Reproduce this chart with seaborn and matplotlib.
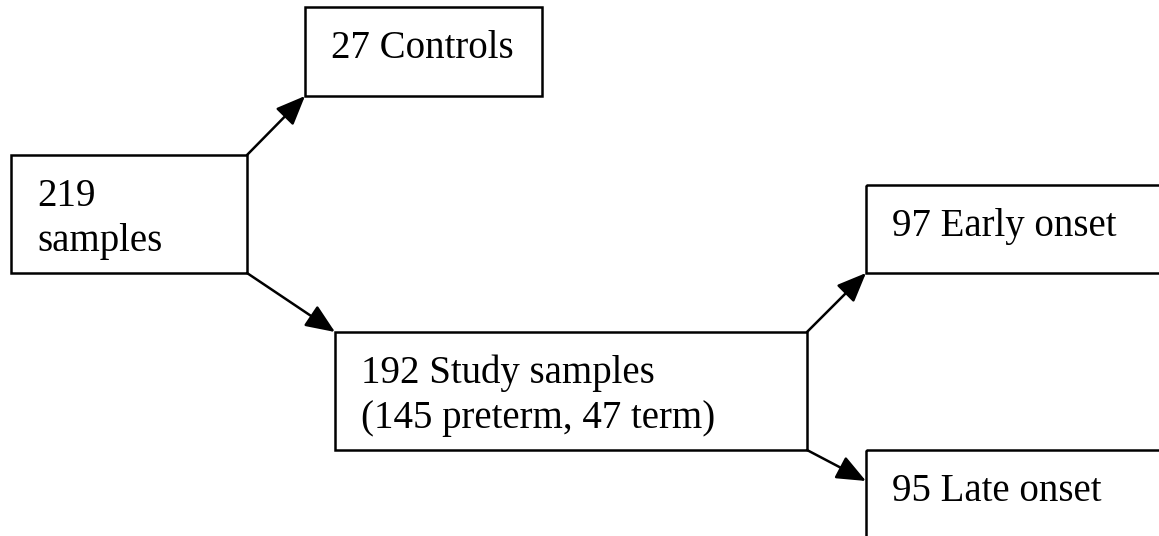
import matplotlib.pyplot as plt
import seaborn as sns
from matplotlib.patches import Rectangle

# counts shown in the flow chart
node_counts = [219, 27, 192, 97, 95]
node_names = ["samples", "Controls", "Study samples", "Early onset", "Late onset"]
preterm_count = 145
term_count = 47
edges = [(0, 1), (0, 2), (2, 3), (2, 4)]

# layout in pixels (x0, y0, x1, y1), y grows downward
boxes = [
    (11, 155, 247, 273),
    (305, 7, 542, 96),
    (335, 332, 807, 450),
    (866, 185, 1175, 273),
    (866, 450, 1175, 560),
]
# arrow start / end points
arrow_ends = {
    (0, 1): ((247, 155), (305, 96)),
    (0, 2): ((247, 273), (335, 332)),
    (2, 3): ((807, 332), (866, 273)),
    (2, 4): ((807, 450), (866, 481)),
}

labels = [
    [str(node_counts[0]), node_names[0]],
    [f"{node_counts[1]} {node_names[1]}"],
    [f"{node_counts[2]} {node_names[2]}", f"({preterm_count} preterm, {term_count} term)"],
    [f"{node_counts[3]} {node_names[3]}"],
    [f"{node_counts[4]} {node_names[4]}"],
]

sns.set_theme(style="white")
plt.rcParams['font.family'] = ['Liberation Serif', 'DejaVu Serif']

fig = plt.figure(figsize=(11.59, 5.36), dpi=100)
ax = fig.add_axes([0, 0, 1, 1])
ax.set_xlim(0, 1159)
ax.set_ylim(536, 0)
ax.axis('off')

pad_x = 26
first_base = 51
line_step = 45

for (x0, y0, x1, y1), lines in zip(boxes, labels):
    ax.add_patch(Rectangle((x0, y0), x1 - x0, y1 - y0, fill=False,
                           edgecolor='black', lw=1.8, clip_on=False))
    for k, line in enumerate(lines):
        ax.text(x0 + pad_x, y0 + first_base + k * line_step, line,
                fontsize=28, color='black', ha='left', va='baseline')

for e in edges:
    start, end = arrow_ends[e]
    ax.annotate("", xy=end, xytext=start,
                arrowprops=dict(arrowstyle='-|>,head_length=0.6,head_width=0.25',
                                mutation_scale=30, lw=1.8, color='black',
                                shrinkA=0, shrinkB=0))

fig.savefig("out.png", dpi=100, facecolor='white')
